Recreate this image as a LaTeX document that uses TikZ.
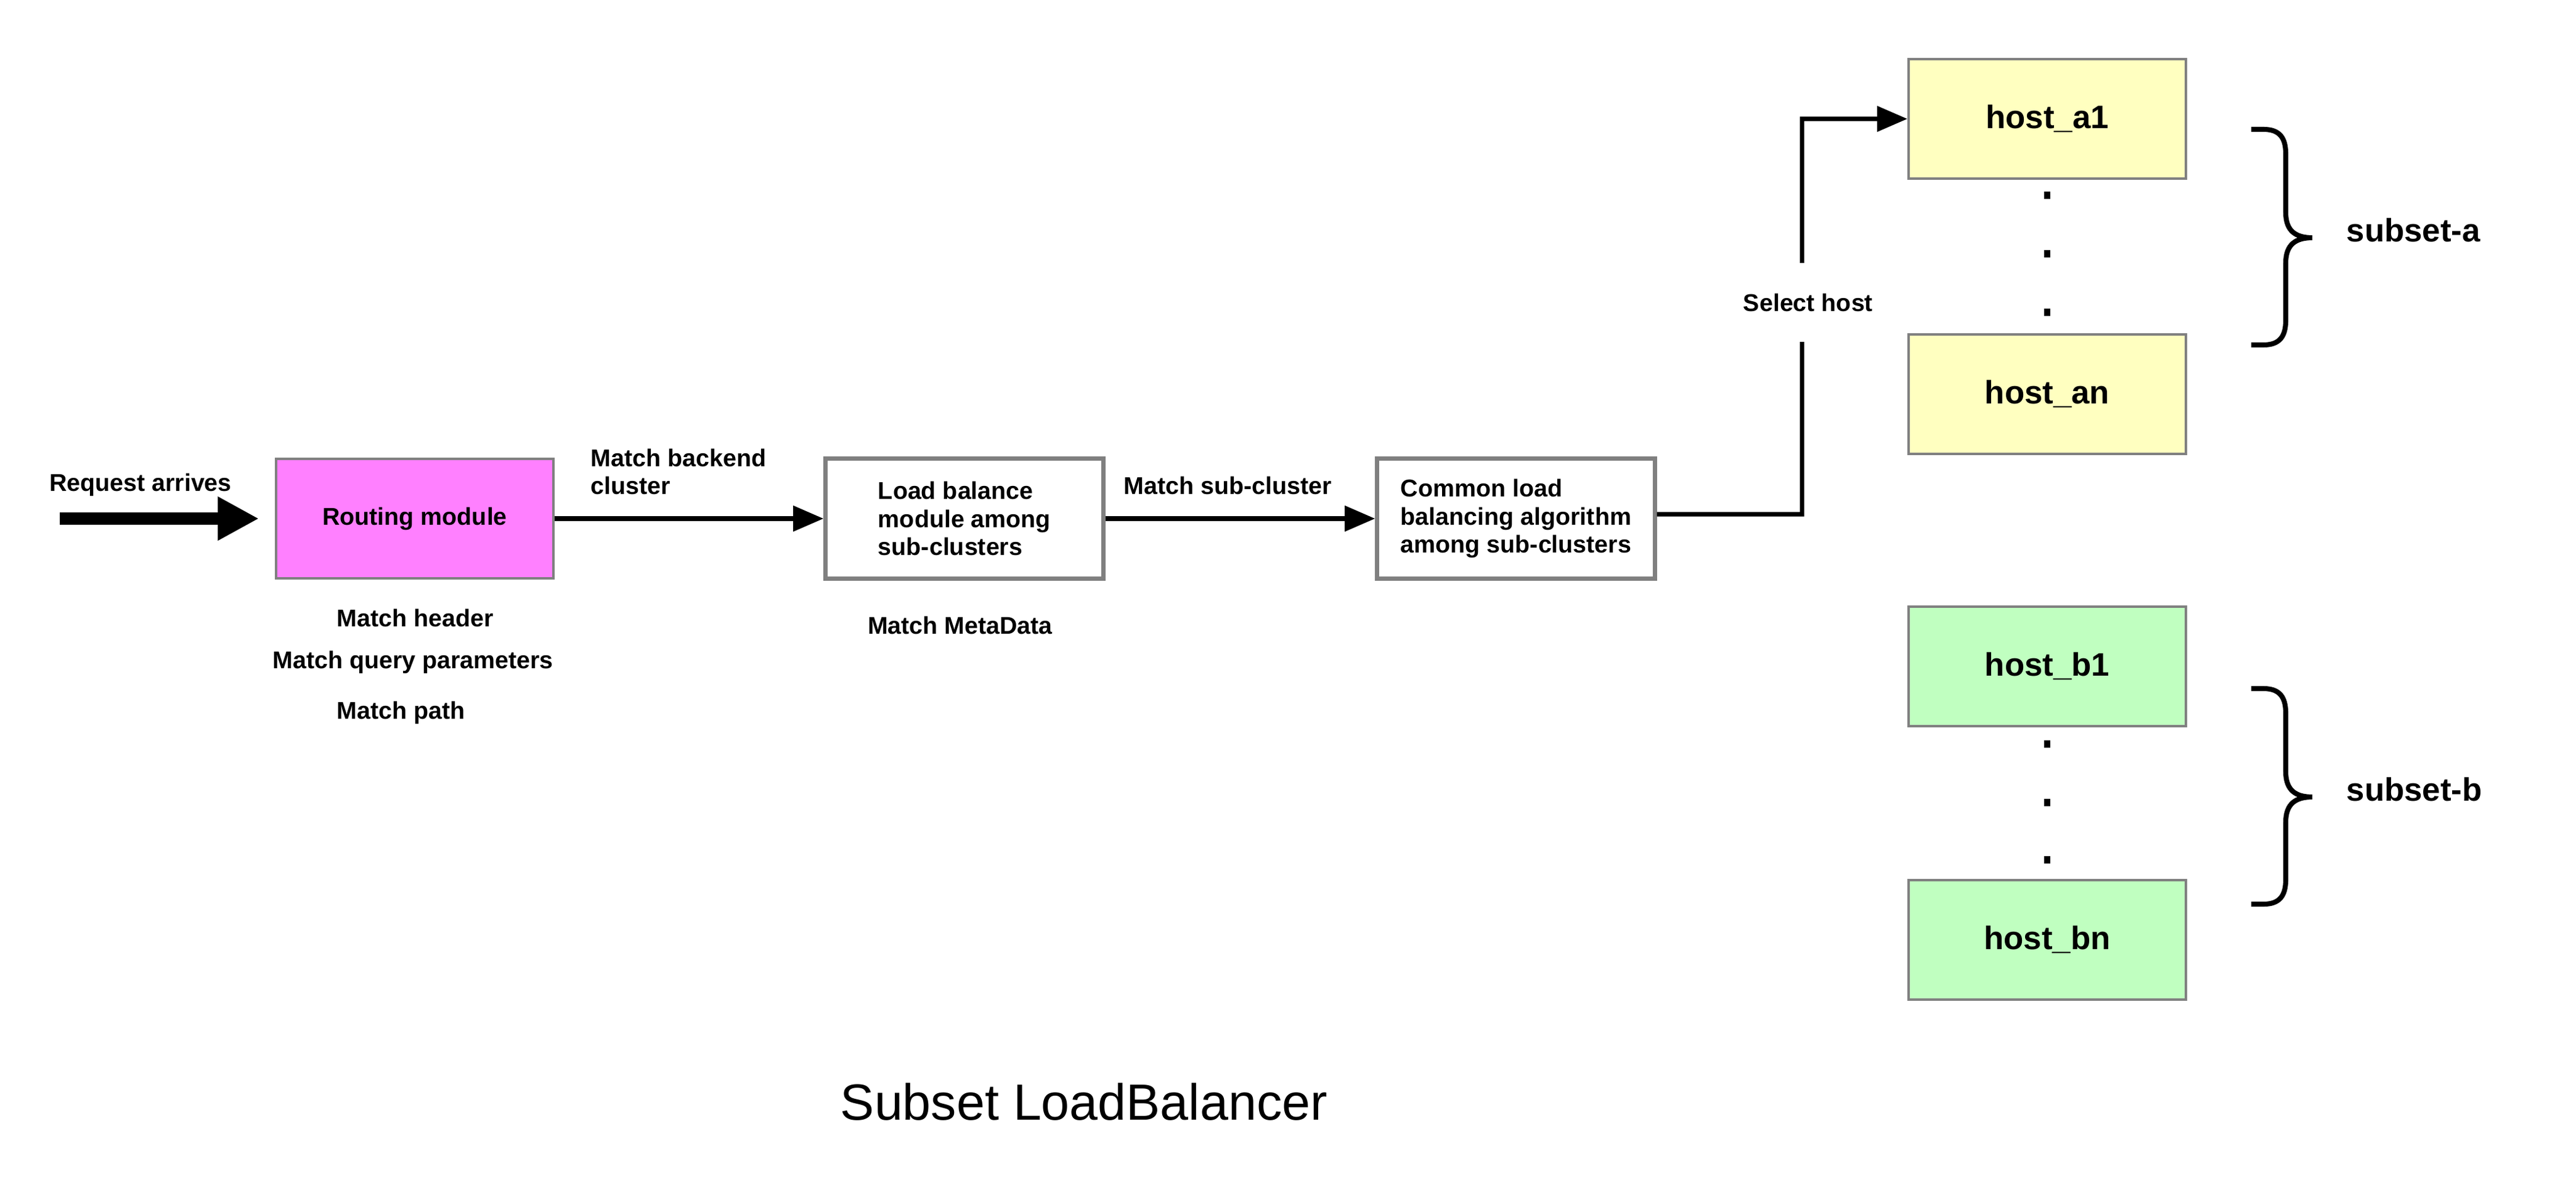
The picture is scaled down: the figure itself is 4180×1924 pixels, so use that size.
\documentclass[tikz,border=0pt]{standalone}
\usepackage{fontspec}
\setmainfont{Liberation Sans}
\usetikzlibrary{arrows.meta}
\definecolor{pinkfill}{HTML}{FF80FF}
\definecolor{yellowfill}{HTML}{FFFFC0}
\definecolor{greenfill}{HTML}{C0FFC0}
\definecolor{boxgray}{HTML}{808080}
\tikzset{
  txt/.style={font=\bfseries\fontsize{11.2}{13}\selectfont, inner sep=0pt, align=left},
  bigtxt/.style={txt, font=\bfseries\fontsize{15}{18}\selectfont},
  modbox/.style={txt, draw=boxgray, minimum width=4.5cm, minimum height=1.94cm},
  hostbox/.style={modbox, bigtxt, line width=1pt},
  conn/.style={line width=2pt, -{Triangle[length=14pt,width=11.5pt]}},
}
\begin{document}
\begin{tikzpicture}[x=0.01cm,y=-0.01cm]
\useasboundingbox (0,0) rectangle (4180,1924);

% modules
\node[modbox, fill=pinkfill, line width=1pt] (rm) at (673,842) {Routing module};
\node[modbox, line width=2pt] (lb) at (1565,842) {Load balance\\module among\\sub-clusters};
\node[modbox, line width=2pt] (cl) at (2460,842) {Common load\\balancing algorithm\\among sub-clusters};

% request
\coordinate (req) at (97,842);
\draw[line width=5.5pt, -{Triangle[length=19pt,width=19pt]}] (req) -- ([xshift=-0.26cm]rm.west);
\node[txt] (reqtxt) at (228,787) {Request arrives};

\draw[conn] (rm) -- (lb);
\draw[conn] (lb) -- (cl);
\node[txt, anchor=west] (mbc) at (958,766) {Match backend\\cluster};
\node[txt] (msc) at (1992,788) {Match sub-cluster};

% matching rules
\node[txt, anchor=west] (mh) at (546,1003) {Match header};
\node[txt] (mq) at (670,1075) {Match query parameters};
\node[txt, anchor=west] (mp) at (546,1157) {Match path};
\node[txt] (mmd) at (1558,1015) {Match MetaData};

% hosts
\node[hostbox, fill=yellowfill] (ha1) at (3322,193) {host\_a1};
\node[hostbox, fill=yellowfill] (han) at (3322,640) {host\_an};
\node[hostbox, fill=greenfill] (hb1) at (3322,1082) {host\_b1};
\node[hostbox, fill=greenfill] (hbn) at (3322,1526) {host\_bn};
\foreach \yd in {317,412,507,1208,1303,1396}
  \fill (3317,\yd-6) rectangle ++(10,12);

% select host
\coordinate (turn) at (2924,835);
\draw[conn] ([yshift=0.07cm]cl.east) -- (turn) |- (ha1.west);
\node[txt, fill=white, inner ysep=14pt] (sel) at (2934,491) {Select host};

% subsets
\foreach \yb in {0,908}
  \draw[line width=2.3pt] (3653,210+\yb) -- (3673,210+\yb)
    .. controls (3700,210+\yb) and (3709,225+\yb) .. (3709,250+\yb) -- (3709,345+\yb)
    .. controls (3709,375+\yb) and (3725,386+\yb) .. (3752,386+\yb)
    .. controls (3725,386+\yb) and (3709,397+\yb) .. (3709,427+\yb) -- (3709,520+\yb)
    .. controls (3709,545+\yb) and (3700,560+\yb) .. (3673,560+\yb) -- (3653,560+\yb);
\node[bigtxt, anchor=base west] (sa) at (3807,392) {subset-a};
\node[bigtxt, anchor=base west] (sb) at (3807,1300) {subset-b};

\node[font=\fontsize{23.5}{28}\selectfont, inner sep=0pt] (title) at (1759,1789) {Subset LoadBalancer};
\end{tikzpicture}
\end{document}
